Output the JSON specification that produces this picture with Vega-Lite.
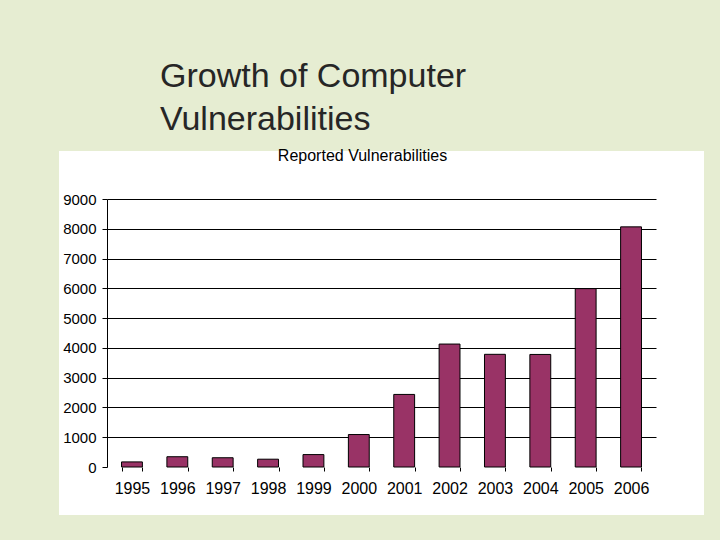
{
  "$schema": "https://vega.github.io/schema/vega-lite/v6.json",
  "width": 549,
  "height": 268,
  "autosize": {"type": "none"},
  "padding": {"left": 107, "top": 199, "right": 64, "bottom": 73},
  "background": "#e6edd2",
  "title": {
    "text": ["Growth of Computer", "Vulnerabilities"],
    "anchor": "start",
    "frame": "group",
    "dx": 53,
    "offset": 10,
    "font": "Liberation Sans",
    "fontSize": 34,
    "fontWeight": "normal",
    "color": "#262626",
    "lineHeight": 43
  },
  "config": {
    "font": "Liberation Sans",
    "view": {"fill": "white", "stroke": "white", "strokeWidth": 96}
  },
  "data": {
    "values": [
      {"year": "1995", "count": 171},
      {"year": "1996", "count": 345},
      {"year": "1997", "count": 311},
      {"year": "1998", "count": 262},
      {"year": "1999", "count": 417},
      {"year": "2000", "count": 1090},
      {"year": "2001", "count": 2437},
      {"year": "2002", "count": 4129},
      {"year": "2003", "count": 3784},
      {"year": "2004", "count": 3780},
      {"year": "2005", "count": 5990},
      {"year": "2006", "count": 8064}
    ]
  },
  "layer": [
    {
      "mark": {"type": "bar", "fill": "#993366", "stroke": "black", "strokeWidth": 1},
      "encoding": {
        "x": {
          "field": "year",
          "type": "ordinal",
          "scale": {"paddingInner": 0.54, "paddingOuter": 0.32},
          "axis": {
            "orient": "bottom",
            "title": null,
            "labelAngle": 0,
            "labelFontSize": 16,
            "labelColor": "black",
            "labelPadding": 9,
            "domain": false,
            "ticks": true,
            "tickBand": "extent",
            "tickColor": "black",
            "tickSize": 4,
            "grid": false
          }
        },
        "y": {
          "field": "count",
          "type": "quantitative",
          "scale": {"domain": [0, 9000], "nice": false},
          "axis": {
            "title": null,
            "values": [0, 1000, 2000, 3000, 4000, 5000, 6000, 7000, 8000, 9000],
            "format": "d",
            "labelOverlap": false,
            "labelFontSize": 15,
            "labelColor": "black",
            "labelPadding": 6,
            "tickColor": "black",
            "tickSize": 5,
            "domain": true,
            "domainColor": "black",
            "grid": true,
            "gridColor": "black",
            "gridOpacity": {"condition": {"test": "datum.value === 0", "value": 0}, "value": 1}
          }
        }
      }
    },
    {
      "mark": {"type": "tick", "opacity": 0},
      "encoding": {
        "x": {
          "field": "year",
          "type": "ordinal",
          "axis": {
            "orient": "top",
            "labels": false,
            "ticks": false,
            "domain": false,
            "grid": false,
            "title": "Reported Vulnerabilities",
            "titleFontSize": 16,
            "titleFontWeight": "normal",
            "titleColor": "black",
            "titlePadding": 36,
            "titleX": 255,
            "titleAlign": "center"
          }
        }
      }
    }
  ],
  "resolve": {"axis": {"x": "independent"}}
}
